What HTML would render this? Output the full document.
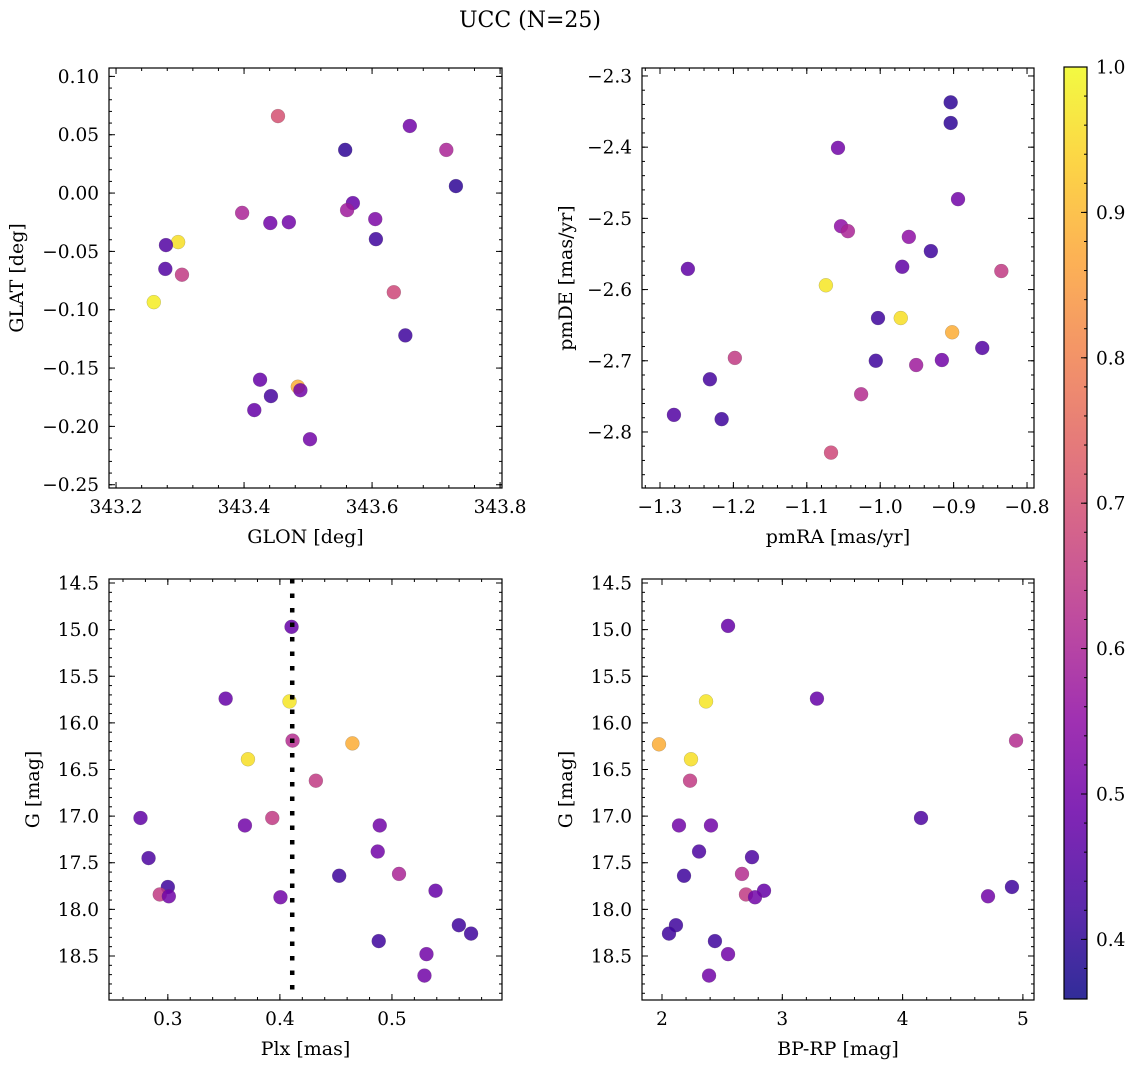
<!DOCTYPE html>
<html><head><meta charset="utf-8">
<style>
html,body{margin:0;padding:0;background:#fff;}
svg{display:block;font-family:"DejaVu Serif","Liberation Serif",serif;}
</style></head>
<body>
<svg id="fig" width="1136" height="1067" viewBox="0 0 1136 1067" xmlns="http://www.w3.org/2000/svg">
<text x="530" y="27" font-size="22" text-anchor="middle">UCC (N=25)</text>
</svg>
<script>
// Panel 1: GLON vs GLAT
const glon=[343.259,343.297,343.278,343.277,343.303,343.397,343.453,343.441,343.470,343.558,343.570,343.561,343.605,343.606,343.659,343.716,343.731,343.634,343.652,343.425,343.416,343.442,343.484,343.488,343.503];
const glat=[-0.0935,-0.042,-0.0446,-0.065,-0.070,-0.017,0.066,-0.0257,-0.025,0.037,-0.0086,-0.0146,-0.0223,-0.0395,0.0575,0.037,0.006,-0.085,-0.122,-0.160,-0.186,-0.174,-0.166,-0.169,-0.211];
const prob1=[0.98,0.96,0.45,0.45,0.65,0.6,0.7,0.5,0.5,0.4,0.48,0.58,0.52,0.42,0.5,0.6,0.4,0.68,0.42,0.48,0.48,0.43,0.88,0.5,0.5];
// Panel 2: pmRA vs pmDE
const pmra=[-0.904,-0.904,-1.0575,-0.894,-1.0534,-1.044,-0.961,-0.931,-1.262,-0.970,-0.835,-1.074,-0.972,-0.902,-1.003,-0.861,-1.006,-0.916,-0.951,-1.198,-1.232,-1.026,-1.281,-1.216,-1.067];
const pmde=[-2.337,-2.366,-2.401,-2.473,-2.511,-2.518,-2.526,-2.546,-2.571,-2.568,-2.574,-2.594,-2.640,-2.660,-2.640,-2.682,-2.700,-2.699,-2.706,-2.696,-2.726,-2.747,-2.776,-2.782,-2.829];
const prob2=[0.4,0.4,0.5,0.5,0.55,0.6,0.55,0.42,0.47,0.47,0.65,0.97,0.96,0.88,0.42,0.45,0.42,0.5,0.58,0.65,0.43,0.62,0.45,0.42,0.68];
// Panel 3: Plx vs G
const plx=[0.4104,0.3516,0.4086,0.3715,0.4113,0.4647,0.4321,0.2756,0.2828,0.3688,0.3932,0.4891,0.4873,0.4529,0.5063,0.3,0.2928,0.3009,0.4005,0.5389,0.5597,0.4882,0.5706,0.5308,0.529];
const gmag3=[14.97,15.74,15.77,16.39,16.19,16.22,16.62,17.02,17.45,17.10,17.02,17.10,17.38,17.64,17.62,17.76,17.84,17.86,17.87,17.80,18.17,18.34,18.26,18.48,18.71];
const prob3=[0.48,0.48,0.97,0.96,0.62,0.88,0.65,0.47,0.44,0.5,0.65,0.5,0.5,0.42,0.6,0.42,0.65,0.5,0.5,0.48,0.42,0.42,0.42,0.5,0.5];
const plxMedian=0.411;
// Panel 4: BP-RP vs G
const bprp=[2.549,3.288,2.366,4.943,1.975,2.241,2.233,4.153,2.141,2.407,2.308,2.748,2.183,2.665,2.698,2.848,2.773,4.71,4.909,2.116,2.058,2.44,2.549,2.391];
const gmag4=[14.96,15.74,15.77,16.19,16.23,16.39,16.62,17.02,17.10,17.10,17.38,17.44,17.64,17.62,17.84,17.80,17.87,17.86,17.76,18.17,18.26,18.34,18.48,18.71];
const prob4=[0.48,0.48,0.97,0.62,0.88,0.96,0.65,0.44,0.5,0.5,0.44,0.44,0.42,0.62,0.65,0.48,0.5,0.5,0.42,0.42,0.42,0.42,0.5,0.5];
// Tick labels
const p1xTicks=[343.2,343.4,343.6,343.8], p1yTicks=[0.10,0.05,0.00,-0.05,-0.10,-0.15,-0.20,-0.25];
const p2xTicks=[-1.3,-1.2,-1.1,-1.0,-0.9,-0.8], p2yTicks=[-2.3,-2.4,-2.5,-2.6,-2.7,-2.8];
const p3xTicks=[0.3,0.4,0.5], gTicks=[14.5,15.0,15.5,16.0,16.5,17.0,17.5,18.0,18.5];
const p4xTicks=[2,3,4,5], cbTicks=[0.4,0.5,0.6,0.7,0.8,0.9,1.0];
const cbMin=0.359, cbMax=1.0;

const NS="http://www.w3.org/2000/svg";
const svg=document.getElementById('fig');
const FS=18.5, LFS=19;
function el(tag,attrs,parent){const e=document.createElementNS(NS,tag);for(const k in attrs)e.setAttribute(k,attrs[k]);(parent||svg).appendChild(e);return e;}
const plasma=[[13,8,135],[65,4,157],[106,0,168],[143,13,164],[177,42,144],[204,71,120],[225,100,98],[242,132,75],[252,166,54],[252,206,37],[240,249,33]];
function cmap(p){let t=(p-cbMin)/(cbMax-cbMin);t=Math.max(0,Math.min(1,t))*10;const i=Math.min(9,Math.floor(t)),f=t-i;const a=plasma[i],b=plasma[i+1];return 'rgb('+[0,1,2].map(k=>Math.round(a[k]+(b[k]-a[k])*f)).join(',')+')';}
function fmt(v,d){const s=Math.abs(v).toFixed(d);return (v<-1e-9?'\u2212':'')+s;}

function panel(o){
  const g=el('g',{});
  
  
  const X=v=>o.L+(v-o.x0)/(o.x1-o.x0)*(o.R-o.L);
  const Y=v=>o.invY? o.T+(v-o.y0)/(o.y1-o.y0)*(o.B-o.T) : o.B-(v-o.y0)/(o.y1-o.y0)*(o.B-o.T);
  const cp='cp'+o.name;
  const c=el('clipPath',{id:cp},g);el('rect',{x:o.L,y:o.T,width:o.R-o.L,height:o.B-o.T},c);
  const pts=el('g',{'clip-path':'url(#'+cp+')'},g);
  
  
  for(let i=0;i<o.xs.length;i++){
    const ci=el('circle',{cx:X(o.xs[i]),cy:Y(o.ys[i]),r:7,fill:cmap(o.ps[i]),'fill-opacity':0.85,stroke:'#555','stroke-width':0.3,'stroke-opacity':0.6},pts);
    
    
  }
  if(o.vline!==undefined){
    const ln=el('line',{x1:X(o.vline),x2:X(o.vline),y1:o.T,y2:o.B,stroke:'#000','stroke-width':4.5,'stroke-dasharray':'4.5 10'},g);
    
    
  }
  const tk=el('g',{stroke:'#000','stroke-width':1},g);
  for(let k=Math.ceil(Math.min(o.x0,o.x1)/o.xm-1e-6);k*o.xm<=Math.max(o.x0,o.x1)+1e-9;k++){const x=X(k*o.xm);el('line',{x1:x,x2:x,y1:o.B,y2:o.B-3},tk);el('line',{x1:x,x2:x,y1:o.T,y2:o.T+3},tk);}
  for(let k=Math.ceil(Math.min(o.y0,o.y1)/o.ym-1e-6);k*o.ym<=Math.max(o.y0,o.y1)+1e-9;k++){const y=Y(k*o.ym);el('line',{x1:o.L,x2:o.L+3,y1:y,y2:y},tk);el('line',{x1:o.R,x2:o.R-3,y1:y,y2:y},tk);}
  o.xt.forEach(v=>{const x=X(v);el('line',{x1:x,x2:x,y1:o.B,y2:o.B-6},tk);el('line',{x1:x,x2:x,y1:o.T,y2:o.T+6},tk);
    const t=el('text',{x:x,y:o.B+25,'font-size':FS,'text-anchor':'middle'},g);t.textContent=fmt(v,o.xd);
    
    });
  o.yt.forEach(v=>{const y=Y(v);el('line',{x1:o.L,x2:o.L+6,y1:y,y2:y},tk);el('line',{x1:o.R,x2:o.R-6,y1:y,y2:y},tk);
    const t=el('text',{x:o.L-10,y:y+6.5,'font-size':FS,'text-anchor':'end'},g);t.textContent=fmt(v,o.yd);
    
    });
  el('rect',{x:o.L,y:o.T,width:o.R-o.L,height:o.B-o.T,fill:'none',stroke:'#000','stroke-width':1.2},g);
  const xl=el('text',{x:(o.L+o.R)/2,y:o.B+55,'font-size':LFS,'text-anchor':'middle'},g);xl.textContent=o.xlab;
  
  
  const yx=o.L-o.ylo;
  const yl=el('text',{x:yx,y:(o.T+o.B)/2,'font-size':LFS,'text-anchor':'middle',transform:'rotate(-90 '+yx+' '+(o.T+o.B)/2+')'},g);yl.textContent=o.ylab;
  
  
}
panel({name:'glon-glat-panel',L:109,R:502,T:68,B:488,x0:343.189,x1:343.803,y0:-0.2528,y1:0.1072,xs:glon,ys:glat,ps:prob1,xt:p1xTicks,yt:p1yTicks,xd:1,yd:2,xm:0.04,ym:0.01,xlab:'GLON [deg]',ylab:'GLAT [deg]',ylo:86});
panel({name:'pm-panel',L:642,R:1034,T:68,B:488,x0:-1.3245,x1:-0.7905,y0:-2.8787,y1:-2.2888,xs:pmra,ys:pmde,ps:prob2,xt:p2xTicks,yt:p2yTicks,xd:1,yd:1,xm:0.02,ym:0.02,xlab:'pmRA [mas/yr]',ylab:'pmDE [mas/yr]',ylo:70});
panel({name:'plx-g-panel',L:109,R:502,T:579,B:1000,x0:0.2475,x1:0.5982,y0:14.457,y1:18.972,invY:true,xs:plx,ys:gmag3,ps:prob3,xt:p3xTicks,yt:gTicks,xd:1,yd:1,xm:0.02,ym:0.1,xlab:'Plx [mas]',ylab:'G [mag]',ylo:70,vline:plxMedian});
panel({name:'cmd-panel',L:642,R:1034,T:579,B:1000,x0:1.8337,x1:5.0923,y0:14.457,y1:18.972,invY:true,xs:bprp,ys:gmag4,ps:prob4,xt:p4xTicks,yt:gTicks,xd:0,yd:1,xm:0.2,ym:0.1,xlab:'BP-RP [mag]',ylab:'G [mag]',ylo:70});

(function(){
  const L=1064,R=1087,T=67,B=999;
  const g=el('g',{});
  
  
  const defs=el('defs',{},g);
  const lg=el('linearGradient',{id:'cbg',x1:0,y1:1,x2:0,y2:0},defs);
  for(let i=0;i<=40;i++){const p=cbMin+(cbMax-cbMin)*i/40;el('stop',{offset:(i/40),'stop-color':cmap(p)},lg);}
  el('rect',{x:L,y:T,width:R-L,height:B-T,fill:'url(#cbg)','fill-opacity':0.85},g);
  const Y=v=>B-(v-cbMin)/(cbMax-cbMin)*(B-T);
  for(let k=19;k<=50;k++){const v=k*0.02;if(v<cbMin)continue;el('line',{x1:R,x2:R-3,y1:Y(v),y2:Y(v),stroke:'#000','stroke-width':1},g);}
  cbTicks.forEach(v=>{el('line',{x1:R,x2:R-6,y1:Y(v),y2:Y(v),stroke:'#000','stroke-width':1},g);
    const t=el('text',{x:R+9,y:Y(v)+6.5,'font-size':FS},g);t.textContent=v.toFixed(1);
    
    });
  el('rect',{x:L,y:T,width:R-L,height:B-T,fill:'none',stroke:'#000','stroke-width':1.2},g);
})();
</script>
</body></html>
